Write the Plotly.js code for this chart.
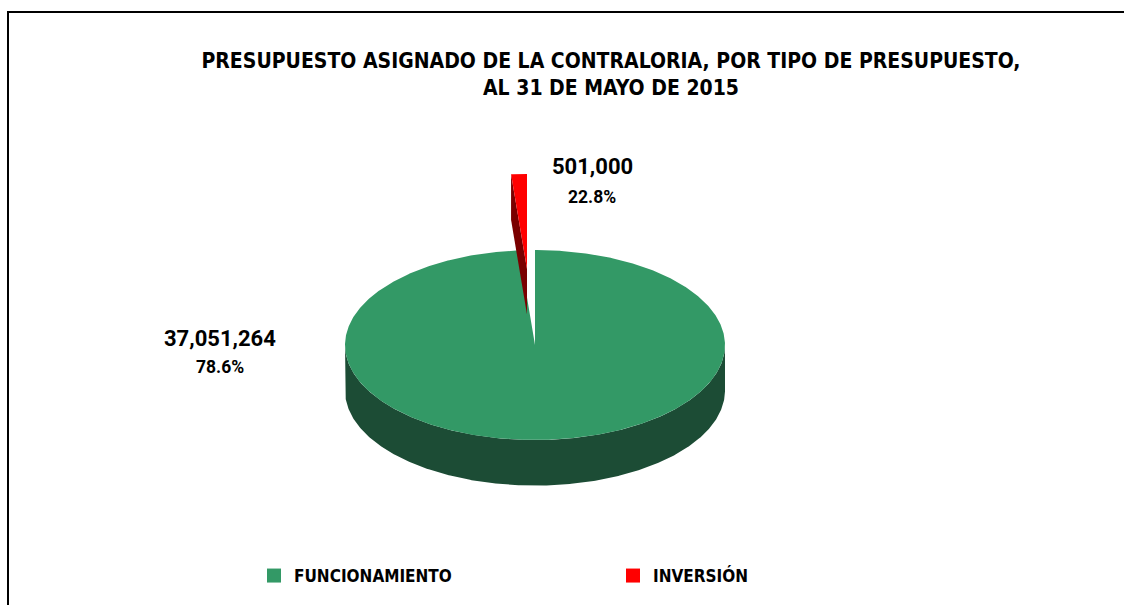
<!DOCTYPE html>
<html><head><meta charset="utf-8">
<script src="https://cdn.plot.ly/plotly-3.0.1.min.js"></script>
<style>html,body{margin:0;padding:0;background:#fff}#chart{width:1124px;height:605px}</style>
</head><body><div id="chart"></div><script>
// ---- data ----
const categories = ['FUNCIONAMIENTO', 'INVERSIÓN'];
const values = [37051264, 501000];
const valueLabels = ['37,051,264', '501,000'];
const pctLabels = ['78.6%', '22.8%'];
const titleLine1 = 'PRESUPUESTO ASIGNADO DE LA CONTRALORIA, POR TIPO DE PRESUPUESTO,';
const titleLine2 = 'AL 31 DE MAYO DE 2015';

// ---- style ----
const topColors = ['#339966', '#ff0000'];
const sideColors = ['#1c4c35', '#7a0000'];
const W = 1124, H = 605, CX = 535, CY = 345, S = 190;
const RX = 1, RY = 0.5, DEPTH = 0.24;
const explode = [[0, 0], [-8 / S, 76 / S]];
const narrow = 'DejaVu Sans Condensed, DejaVu Sans, sans-serif';
const labelFont = 'Roboto, Arial, sans-serif';
const px2x = p => (p - CX) / S;
const px2y = p => (CY - p) / S;

const total = values.reduce((a, b) => a + b, 0);
const deg = Math.PI / 180;
const traces = [];
const sideTraces = [], topTraces = [], radialTraces = [];
let cum = 0;
values.forEach((v, i) => {
  const s = 90 - cum / total * 360;
  cum += v;
  const e = 90 - cum / total * 360;
  const [ox, oy] = explode[i];
  const tx = [ox], ty = [oy];
  const n = Math.max(4, Math.ceil((s - e) * 2));
  for (let k = 0; k <= n; k++) {
    const a = (s - (s - e) * k / n) * deg;
    tx.push(ox + RX * Math.cos(a)); ty.push(oy + RY * Math.sin(a));
  }
  tx.push(ox); ty.push(oy);
  topTraces.push({type: 'scatter', x: tx, y: ty, mode: 'lines', fill: 'toself',
    fillcolor: topColors[i], line: {width: 0, color: topColors[i]}, hoverinfo: 'skip', showlegend: false});
  [0, -360].forEach(kOff => {
    const lo = Math.max(e, kOff - 180), hi = Math.min(s, kOff);
    if (hi > lo) {
      const sx = [], sy = [];
      const m = Math.ceil((hi - lo) * 2);
      for (let k = 0; k <= m; k++) {
        const a = (hi - (hi - lo) * k / m) * deg;
        sx.push(ox + RX * Math.cos(a)); sy.push(oy + RY * Math.sin(a));
      }
      for (let k = m; k >= 0; k--) {
        const a = (hi - (hi - lo) * k / m) * deg;
        sx.push(ox + RX * Math.cos(a)); sy.push(oy + RY * Math.sin(a) - DEPTH);
      }
      sx.push(sx[0]); sy.push(sy[0]);
      sideTraces.push({type: 'scatter', x: sx, y: sy, mode: 'lines', fill: 'toself',
        fillcolor: sideColors[i], line: {width: 0, color: sideColors[i]}, hoverinfo: 'skip', showlegend: false});
    }
  });
  if (ox !== 0 || oy !== 0) {
    const a = s * deg;
    const ex = ox + RX * Math.cos(a), ey = oy + RY * Math.sin(a);
    radialTraces.push({type: 'scatter', x: [ox, ex, ex, ox, ox], y: [oy, ey, ey - DEPTH, oy - DEPTH, oy],
      mode: 'lines', fill: 'toself', fillcolor: sideColors[i], line: {width: 0, color: sideColors[i]},
      hoverinfo: 'skip', showlegend: false});
  }
});
traces.push(sideTraces[0]);
traces.push(topTraces[0]);
sideTraces.slice(1).forEach(t => traces.push(t));
radialTraces.forEach(t => traces.push(t));
traces.push(topTraces[1]);
categories.forEach((c, i) => traces.push({type: 'scatter', x: [null], y: [null], mode: 'markers',
  name: c, marker: {symbol: 'square', size: 14, color: topColors[i]}, showlegend: true}));

const labelPos = [[220, 338, 367], [592, 166, 197]];
const annotations = [];
valueLabels.forEach((t, i) => {
  annotations.push({x: px2x(labelPos[i][0]), y: px2y(labelPos[i][1]), text: t, showarrow: false,
    font: {family: labelFont, size: 22, color: '#000', weight: 'bold'}});
  annotations.push({x: px2x(labelPos[i][0]), y: px2y(labelPos[i][2]), text: pctLabels[i], showarrow: false,
    font: {family: labelFont, size: 17.5, color: '#000', weight: 'bold'}});
});

const layout = {
  width: W, height: H, margin: {l: 0, r: 0, t: 0, b: 0},
  paper_bgcolor: '#fff', plot_bgcolor: '#fff',
  xaxis: {range: [px2x(0), px2x(W)], visible: false, fixedrange: true},
  yaxis: {range: [px2y(H), px2y(0)], visible: false, fixedrange: true},
  title: {text: titleLine1 + '<br>' + titleLine2, x: 611 / W, xanchor: 'center', y: 1 - 68 / H, yanchor: 'middle',
    font: {family: narrow, size: 21, color: '#000', weight: 'bold'}},
  showlegend: true,
  legend: {orientation: 'h', x: 254 / W, xanchor: 'left', y: 1 - 576 / H, yanchor: 'middle',
    entrywidth: 314, entrywidthmode: 'pixels',
    font: {family: narrow, size: 17, color: '#000', weight: 'bold'}, bgcolor: 'rgba(0,0,0,0)'},
  annotations: annotations,
  shapes: [{type: 'rect', xref: 'paper', yref: 'paper', x0: 8 / W, x1: 1.02, y0: -0.02, y1: 1 - 12 / H,
    line: {color: '#000', width: 2}, fillcolor: 'rgba(0,0,0,0)'}]
};
Plotly.newPlot('chart', traces, layout, {displayModeBar: false, staticPlot: true});
</script></body></html>
